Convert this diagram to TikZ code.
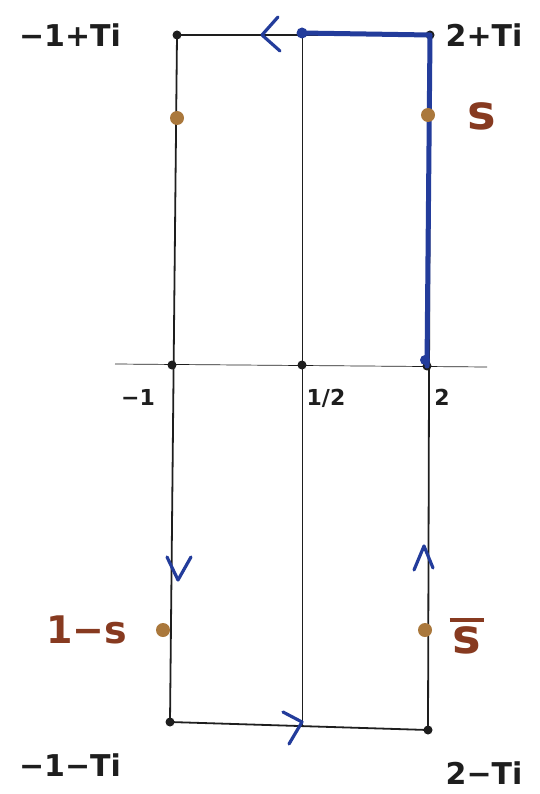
\documentclass[tikz,border=0pt]{standalone}
\usepackage{fontspec}
\newfontfamily\hand{DejaVu Sans}
\usetikzlibrary{arrows.meta}
\definecolor{pen}{RGB}{30,30,30}
\definecolor{ink}{RGB}{35,60,155}
\definecolor{rust}{RGB}{135,58,32}
\definecolor{dotc}{RGB}{170,120,60}
\begin{document}
\begin{tikzpicture}[x=1pt,y=-1pt,
  edge/.style={draw=pen,line width=1.8pt},
  thin/.style={draw=pen,line width=0.7pt},
  vtx/.style={circle,fill=pen,inner sep=0pt,minimum size=9pt},
  pt/.style={circle,fill=dotc,inner sep=0pt,minimum size=14pt},
  lbl/.style={text=pen,font=\hand\bfseries\fontsize{30}{34}\selectfont},
  tick/.style={text=pen,font=\hand\bfseries\fontsize{22}{26}\selectfont},
  rlbl/.style={text=rust,font=\hand\bfseries\fontsize{38}{42}\selectfont},
  slbl/.style={text=rust,font=\hand\bfseries\fontsize{48}{52}\selectfont},
  chev/.style={draw=ink,line width=3.2pt,line cap=round,line join=round}]
\useasboundingbox (0,0) rectangle (539,794);
% corners and axis points
\node[vtx] (tl) at (177,35) {};
\node[vtx] (tr) at (430,35) {};
\node[vtx] (bl) at (170,722) {};
\node[vtx] (br) at (428,730) {};
\node[vtx] (al) at (172,365) {};
\node[vtx] (am) at (302,365) {};
\node[vtx] (ar) at (427,366) {};
\coordinate (tm) at (302,33);
\coordinate (bm) at (302,727);
\coordinate (ax0) at (115,364);
\coordinate (ax1) at (487,367);
% axis and middle line
\draw[thin] (ax0) -- (ax1);
\draw[thin] (tm) -- (bm);
% rectangle contour
\draw[edge] (tl.center) -- (tr.center);
\draw[edge] (tr.center) -- (br.center);
\draw[edge] (br.center) -- (bl.center);
\draw[edge] (bl.center) -- (tl.center);
% blue thick path
\draw[draw=ink,line width=5pt,line cap=round,line join=round] (tm) -- (tr.center) -- (ar.center);
\node[circle,fill=ink,inner sep=0pt,minimum size=11pt] (bt) at (tm) {};
\node[circle,fill=ink,inner sep=0pt,minimum size=10pt] (bb) at (425,360) {};
% arrows (chevrons)
\draw[chev] (278,17) -- (262,35) -- (280,51);
\draw[chev] (167,557) -- (178,580) -- (191,557);
\draw[chev] (283,712) -- (302,722) -- (289,744);
\draw[chev] (414,570) -- (424,546) -- (433,568);
% points
\node[pt] (s) at (428,115) {};
\node[pt] (sl) at (177,118) {};
\node[pt] (oms) at (163,630) {};
\node[pt] (sb) at (425,630) {};
% labels
\node[lbl] at (70,35) {−1+Ti};
\node[lbl] at (484,35) {2+Ti};
\node[lbl] at (70,765) {−1−Ti};
\node[lbl] at (484,773) {2−Ti};
\node[tick] at (138,397) {−1};
\node[tick] at (326,398) {1/2};
\node[tick] at (442,397) {2};
\node[slbl] at (482,116) {s};
\node[rlbl] at (87,630) {1−s};
\node[slbl,inner sep=0pt] (sbl) at (467,640) {s};
\draw[draw=rust,line width=4.5pt] ([xshift=-3pt,yshift=6pt]sbl.north west) -- ([xshift=3pt,yshift=6pt]sbl.north east);
\end{tikzpicture}
\end{document}
